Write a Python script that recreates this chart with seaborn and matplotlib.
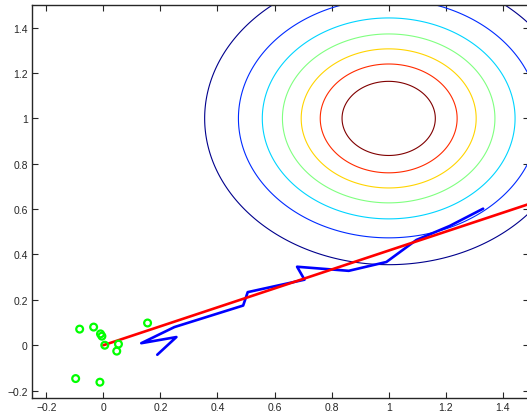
import numpy as np
import pandas as pd
import seaborn as sns
import matplotlib.pyplot as plt

# gaussian bump the contours come from
center_x, center_y = 1.0, 1.0
spread = 0.1
levels = [0.125, 0.25, 0.375, 0.5, 0.625, 0.75, 0.875]
level_colors = [(0, 0, 0.55), (0, 0.17, 1), (0, 0.83, 1), (0.5, 1, 0.5),
                (1, 0.83, 0), (1, 0.17, 0), (0.5, 0, 0)]

# noisy descent path
path_x = [0.189, 0.256, 0.133, 0.249, 0.490, 0.506, 0.705, 0.679, 0.860,
          0.992, 1.097, 1.214, 1.331]
path_y = [-0.042, 0.036, 0.009, 0.080, 0.175, 0.234, 0.289, 0.346, 0.328,
          0.367, 0.464, 0.526, 0.602]

# straight red line
line_x = [0.0, 1.5]
line_y = [0.0, 0.626]

# green sample points
pts_x = [-0.083, -0.034, -0.010, -0.005, 0.005, 0.053, 0.047, 0.155, -0.097, -0.012]
pts_y = [0.071, 0.080, 0.050, 0.040, 0.000, 0.005, -0.026, 0.098, -0.147, -0.163]

sns.set_style("ticks")
plt.rcParams['font.family'] = ['Liberation Sans', 'DejaVu Sans']
plt.rcParams['xtick.direction'] = 'in'
plt.rcParams['ytick.direction'] = 'in'

fig = plt.figure(figsize=(5.27, 4.14), dpi=100)
ax = fig.add_axes([32 / 527, (414 - 399.3) / 414, (528.5 - 32) / 527, (399.3 - 6) / 414])

gx, gy = np.meshgrid(np.linspace(-0.3, 1.6, 400), np.linspace(-0.3, 1.6, 400))
gz = np.exp(-((gx - center_x) ** 2 + (gy - center_y) ** 2) / (2 * spread))
ax.contour(gx, gy, gz, levels=levels, colors=level_colors, linewidths=0.8)

df_path = pd.DataFrame({"x": path_x, "y": path_y})
sns.lineplot(data=df_path, x="x", y="y", sort=False, estimator=None,
             color=(0, 0, 1), linewidth=1.9, ax=ax)

df_line = pd.DataFrame({"x": line_x, "y": line_y})
sns.lineplot(data=df_line, x="x", y="y", color=(1, 0, 0), linewidth=1.9, ax=ax)

df_pts = pd.DataFrame({"x": pts_x, "y": pts_y})
sns.scatterplot(data=df_pts, x="x", y="y", s=24, facecolor="none",
                edgecolor=(0, 1, 0), linewidth=1.6, ax=ax, zorder=5)

ax.set_xlim(-0.25, 1.49)
ax.set_ylim(-0.234, 1.5)
ax.set_xticks(np.arange(-0.2, 1.5, 0.2))
ax.set_yticks(np.arange(-0.2, 1.5, 0.2))
ax.set_xticklabels(["−0.2", "0", "0.2", "0.4", "0.6", "0.8", "1", "1.2", "1.4"])
ax.set_yticklabels(["−0.2", "0", "0.2", "0.4", "0.6", "0.8", "1", "1.2", "1.4"])
ax.tick_params(top=True, right=True, length=4, width=0.8, labelsize=7.5, pad=3)
for s in ax.spines.values():
    s.set_linewidth(1.0)
ax.set_xlabel("")
ax.set_ylabel("")

fig.savefig("out.png", dpi=100)
